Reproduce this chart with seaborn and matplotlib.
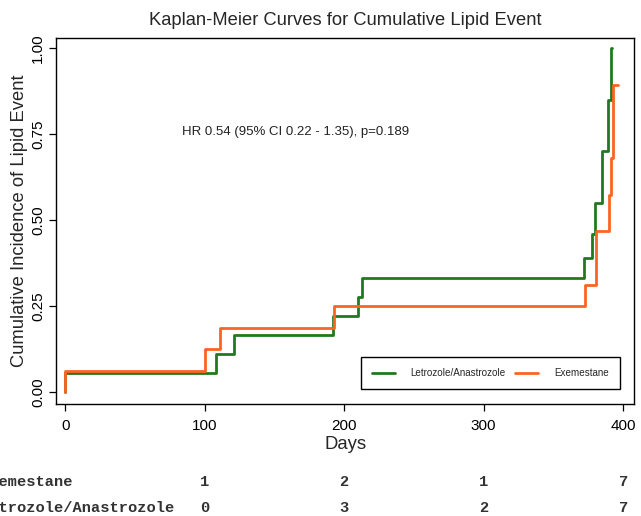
import matplotlib
matplotlib.use("Agg")
import matplotlib.pyplot as plt
import matplotlib.transforms as mtransforms
from matplotlib.lines import Line2D
import seaborn as sns
import pandas as pd

# ---- data ----
letro_days = [0, 0, 108, 121, 192, 210, 213, 372, 378, 379.5, 384.5, 389.5, 391, 392.2]
letro_inc = [0, 0.0556, 0.111, 0.167, 0.222, 0.278, 0.333, 0.389, 0.46, 0.55, 0.70, 0.85, 1.0, 1.0]

exem_days = [0, 0, 100, 111, 192.6, 372.5, 380.5, 390, 391, 392.4, 396]
exem_inc = [0, 0.0625, 0.125, 0.1875, 0.25, 0.3125, 0.469, 0.573, 0.68, 0.893, 0.893]

groups = ["Letrozole/Anastrozole", "Exemestane"]
colors = ["#1f7a1f", "#fa6424"]

risk_times = [100, 200, 300, 400]
risk_exem = [1, 2, 1, 7]
risk_letro = [0, 3, 2, 7]

y_ticks = [0.0, 0.25, 0.5, 0.75, 1.0]
y_ticklabels = ["0.00", "0.25", "0.50", "0.75", "1.00"]
x_ticks = [0, 100, 200, 300, 400]

annotation = "HR 0.54 (95% CI 0.22 - 1.35), p=0.189"

df = pd.concat([
    pd.DataFrame({"Days": letro_days, "inc": letro_inc, "group": groups[0]}),
    pd.DataFrame({"Days": exem_days, "inc": exem_inc, "group": groups[1]}),
], ignore_index=True)

sns.set_style("ticks")
plt.rcParams["font.family"] = ["Liberation Sans", "DejaVu Sans"]

fig = plt.figure(figsize=(6.41, 5.16), dpi=100)
ax = fig.add_axes([56 / 641, 1 - 404 / 516, (634.3 - 56) / 641, (404 - 37.5) / 516])

sns.lineplot(data=df, x="Days", y="inc", hue="group", hue_order=groups,
             palette=colors, estimator=None, sort=False, units="group",
             drawstyle="steps-post", linewidth=2.0, ax=ax, legend=False)

ax.set_xlim(-6.6, 408)
ax.set_ylim(-0.034, 1.031)
ax.set_xticks(x_ticks)
ax.set_yticks(y_ticks)
ax.set_yticklabels(y_ticklabels, rotation=90, va="center")
ax.tick_params(axis="both", labelsize=11, length=5, width=0.9, color="black",
               labelcolor="black", pad=3)
ax.tick_params(axis="x", pad=6)
for s in ax.spines.values():
    s.set_visible(True)
    s.set_color("black")
    s.set_linewidth(1.0)

ax.set_xlabel("Days", fontsize=13.3, labelpad=2)
ax.set_ylabel("Cumulative Incidence of Lipid Event", fontsize=13.2, labelpad=2)
ax.set_title("Kaplan-Meier Curves for Cumulative Lipid Event", fontsize=13.2, pad=9)

ax.text(84, 0.755, annotation, fontsize=9.5, ha="left", va="center", color="#222222")

handles = [Line2D([], [], color=c, lw=2.0) for c in colors]
leg = ax.legend(handles, groups, loc="lower right", bbox_to_anchor=(0.975, 0.041),
                borderaxespad=0, ncol=2, fontsize=7.1, handlelength=2.35,
                handletextpad=1.6, columnspacing=0.95, borderpad=1.1,
                fancybox=False, framealpha=1, edgecolor="black")
leg.get_frame().set_linewidth(1.0)

# at-risk table
trans = mtransforms.blended_transform_factory(ax.transData, fig.transFigure)
rows = [("Exemestane", risk_exem, 1 - 482 / 516), ("Letrozole/Anastrozole", risk_letro, 1 - 508 / 516)]
for label, vals, yf in rows:
    fig.text(-19.7 / 641, yf, label, family="Liberation Mono", fontsize=11.1,
             fontweight="bold", ha="left", va="center", color="#333333")
    for t, v in zip(risk_times, vals):
        ax.text(t, yf, str(v), transform=trans, family="Liberation Mono", fontsize=11.1,
                fontweight="bold", ha="center", va="center", color="#333333", clip_on=False)

fig.savefig("out.png", dpi=100)
